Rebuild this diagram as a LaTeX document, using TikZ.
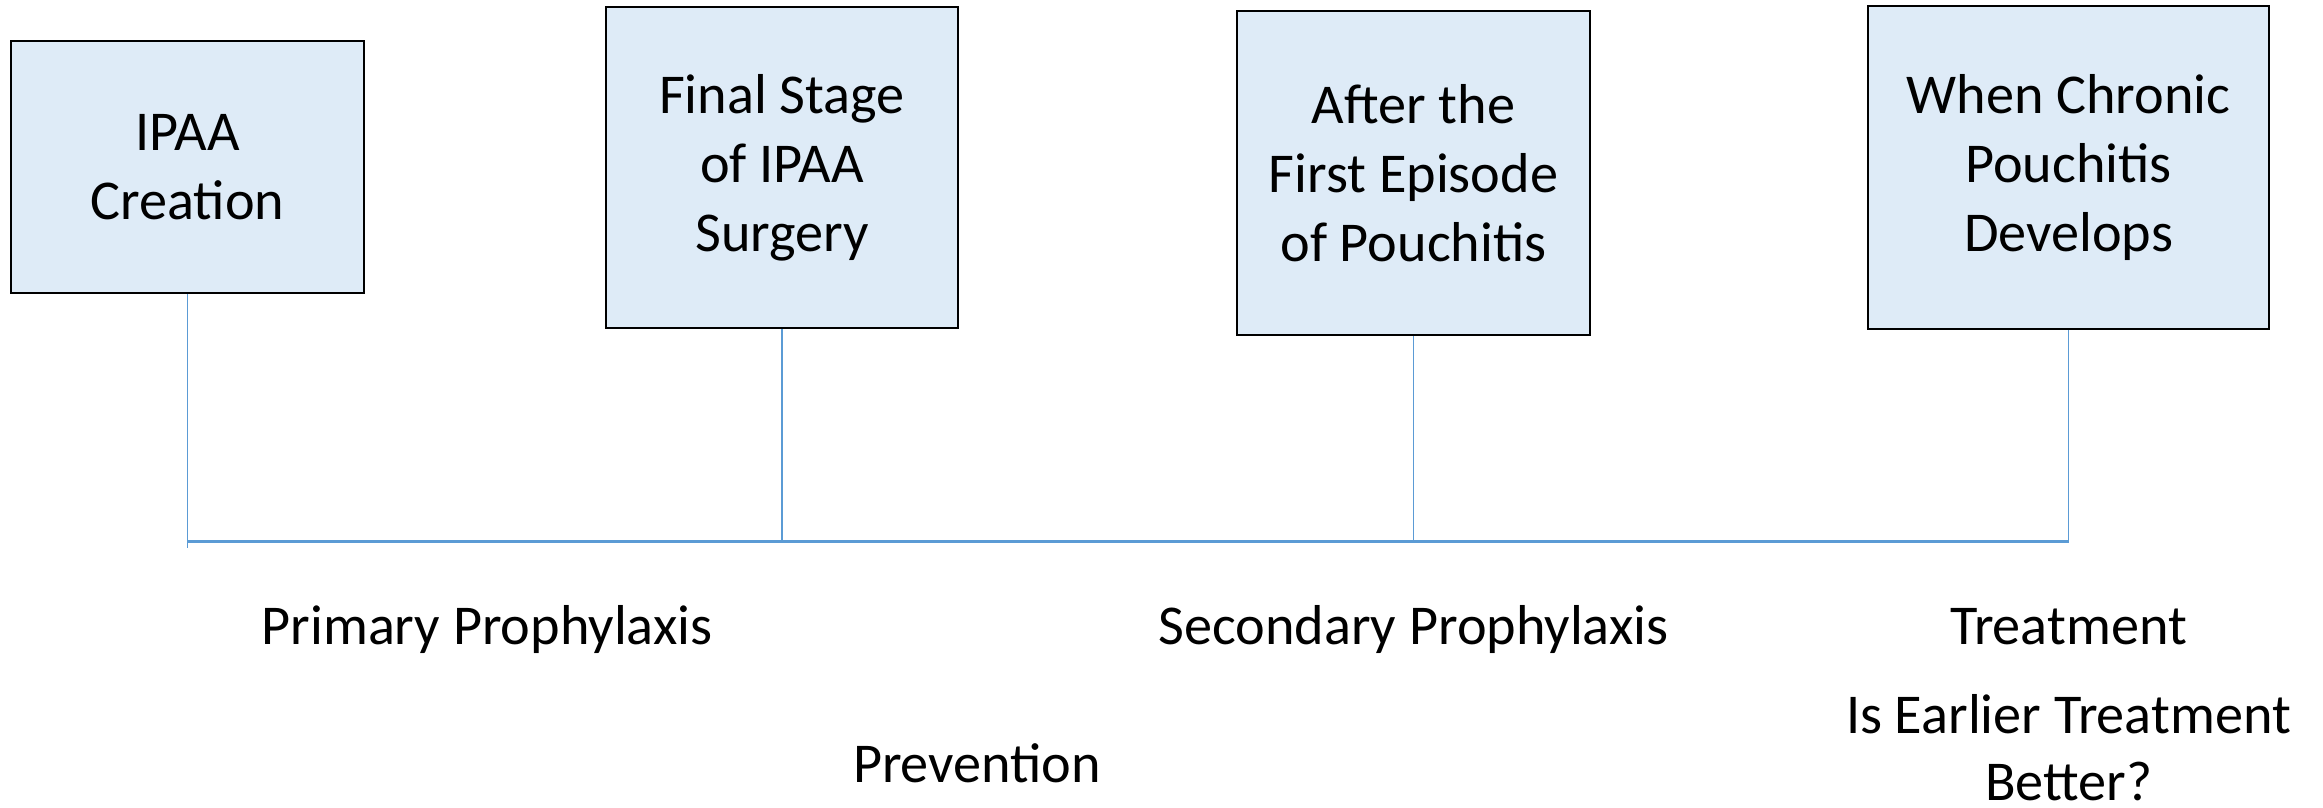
\documentclass[tikz,border=0pt]{standalone}
\usepackage{fontspec}
\setmainfont{Carlito}
\usepackage{tikz}
\usetikzlibrary{calc}

\definecolor{boxfill}{HTML}{DEEBF7}
\definecolor{linkblue}{HTML}{5B9BD5}

\begin{document}
\begin{tikzpicture}[
        stage/.style={draw=black, line width=0.6pt, fill=boxfill, align=center,
            inner sep=0pt, font=\fontsize{16}{19.6}\selectfont},
        phase/.style={inner sep=0pt, align=center, anchor=base,
            font=\fontsize{16}{19}\selectfont},
        tick/.style={draw=linkblue, line width=0.45pt},
        timeline/.style={draw=linkblue, line width=0.75pt}
    ]
                \useasboundingbox (0,0) rectangle (23.23,-8.08);
                \node[stage, minimum width=3.53cm, minimum height=2.52cm] (creation) at (1.875,-1.67) {IPAA\\Creation};
                \node[stage, minimum width=3.52cm, minimum height=3.21cm] (final) at (7.82,-1.675) {Final Stage\\of IPAA\\Surgery};
                \node[stage, minimum width=3.53cm, minimum height=3.24cm] (first) at (14.135,-1.73) {After the\\First Episode\\of Pouchitis};
                \node[stage, minimum width=4.01cm, minimum height=3.23cm] (chronic) at (20.685,-1.675) {When Chronic\\Pouchitis\\Develops};
                \coordinate (t1) at (creation.south |- 0,-5.415);
                \coordinate (t2) at (final.south |- 0,-5.415);
                \coordinate (t3) at (first.south |- 0,-5.415);
                \coordinate (t4) at (chronic.south |- 0,-5.415);
                \draw[tick] (creation.south) -- ($(t1)+(0,-0.06)$);
                \draw[tick] (final.south) -- (t2);
                \draw[tick] (first.south) -- (t3);
                \draw[tick] (chronic.south) -- (t4);
                \draw[timeline] (t1) -- (t4);
                \node[phase] (primary) at (4.87,-6.44) {Primary Prophylaxis};
                \node[phase] (secondary) at (t3 |- 0,-6.44) {Secondary Prophylaxis};
                \node[phase] (treatment) at (t4 |- 0,-6.44) {Treatment};
                \node[phase] (earlier) at (t4 |- 0,-8.0) {Is Earlier Treatment\\Better?};
                \node[phase] (prevention) at (9.77,-7.82) {Prevention};
            \end{tikzpicture}
\end{document}
